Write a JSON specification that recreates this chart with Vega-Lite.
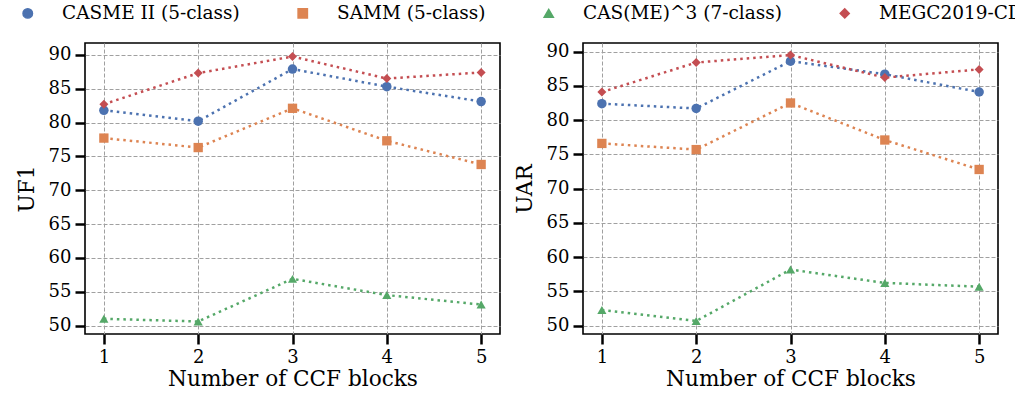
{
  "$schema": "https://vega.github.io/schema/vega-lite/v6.json",
  "padding": {"left": 4, "top": 4, "right": 0, "bottom": 0},
  "background": "white",
  "datasets": {
    "uf1": [
      {"series": "CASME II (5-class)", "block": 1, "value": 81.8},
      {"series": "CASME II (5-class)", "block": 2, "value": 80.2},
      {"series": "CASME II (5-class)", "block": 3, "value": 87.9},
      {"series": "CASME II (5-class)", "block": 4, "value": 85.3},
      {"series": "CASME II (5-class)", "block": 5, "value": 83.1},
      {"series": "SAMM (5-class)", "block": 1, "value": 77.7},
      {"series": "SAMM (5-class)", "block": 2, "value": 76.3},
      {"series": "SAMM (5-class)", "block": 3, "value": 82.1},
      {"series": "SAMM (5-class)", "block": 4, "value": 77.3},
      {"series": "SAMM (5-class)", "block": 5, "value": 73.8},
      {"series": "CAS(ME)^3 (7-class)", "block": 1, "value": 51.0},
      {"series": "CAS(ME)^3 (7-class)", "block": 2, "value": 50.6},
      {"series": "CAS(ME)^3 (7-class)", "block": 3, "value": 56.9},
      {"series": "CAS(ME)^3 (7-class)", "block": 4, "value": 54.5},
      {"series": "CAS(ME)^3 (7-class)", "block": 5, "value": 53.1},
      {"series": "MEGC2019-CD", "block": 1, "value": 82.7},
      {"series": "MEGC2019-CD", "block": 2, "value": 87.3},
      {"series": "MEGC2019-CD", "block": 3, "value": 89.75},
      {"series": "MEGC2019-CD", "block": 4, "value": 86.5},
      {"series": "MEGC2019-CD", "block": 5, "value": 87.4}
    ],
    "uar": [
      {"series": "CASME II (5-class)", "block": 1, "value": 82.4},
      {"series": "CASME II (5-class)", "block": 2, "value": 81.7},
      {"series": "CASME II (5-class)", "block": 3, "value": 88.6},
      {"series": "CASME II (5-class)", "block": 4, "value": 86.7},
      {"series": "CASME II (5-class)", "block": 5, "value": 84.1},
      {"series": "SAMM (5-class)", "block": 1, "value": 76.6},
      {"series": "SAMM (5-class)", "block": 2, "value": 75.7},
      {"series": "SAMM (5-class)", "block": 3, "value": 82.5},
      {"series": "SAMM (5-class)", "block": 4, "value": 77.1},
      {"series": "SAMM (5-class)", "block": 5, "value": 72.8},
      {"series": "CAS(ME)^3 (7-class)", "block": 1, "value": 52.3},
      {"series": "CAS(ME)^3 (7-class)", "block": 2, "value": 50.7},
      {"series": "CAS(ME)^3 (7-class)", "block": 3, "value": 58.2},
      {"series": "CAS(ME)^3 (7-class)", "block": 4, "value": 56.25},
      {"series": "CAS(ME)^3 (7-class)", "block": 5, "value": 55.7},
      {"series": "MEGC2019-CD", "block": 1, "value": 84.1},
      {"series": "MEGC2019-CD", "block": 2, "value": 88.4},
      {"series": "MEGC2019-CD", "block": 3, "value": 89.5},
      {"series": "MEGC2019-CD", "block": 4, "value": 86.2},
      {"series": "MEGC2019-CD", "block": 5, "value": 87.4}
    ]
  },
  "hconcat": [
    {
      "width": 415,
      "height": 291,
      "data": {"name": "uf1"},
      "encoding": {
        "x": {"field": "block", "type": "quantitative", "title": "Number of CCF blocks",
              "scale": {"domain": [0.8, 5.2], "nice": false, "zero": false},
              "axis": {"values": [1, 2, 3, 4, 5], "format": "d"}},
        "y": {"field": "value", "type": "quantitative", "title": "UF1",
              "scale": {"domain": [48.75, 91.75], "nice": false, "zero": false},
              "axis": {"values": [50, 55, 60, 65, 70, 75, 80, 85, 90]}},
        "color": {"field": "series", "type": "nominal",
                  "scale": {"domain": ["CASME II (5-class)", "SAMM (5-class)", "CAS(ME)^3 (7-class)", "MEGC2019-CD"],
                            "range": ["#4C72B0", "#DD8452", "#55A868", "#C44E52"]},
                  "legend": {"title": null, "orient": "none", "legendX": -81, "legendY": -39, "direction": "horizontal"}}
      },
      "layer": [
        {"mark": {"type": "line", "strokeDash": [2.5, 4], "strokeWidth": 2.5, "strokeCap": "butt"}},
        {"mark": {"type": "point", "filled": true, "opacity": 1},
         "encoding": {
           "shape": {"field": "series", "type": "nominal", "legend": null,
                     "scale": {"domain": ["CASME II (5-class)", "SAMM (5-class)", "CAS(ME)^3 (7-class)", "MEGC2019-CD"],
                               "range": ["circle", "square", "triangle-up", "diamond"]}},
           "size": {"field": "series", "type": "nominal", "legend": null,
                    "scale": {"domain": ["CASME II (5-class)", "SAMM (5-class)", "CAS(ME)^3 (7-class)", "MEGC2019-CD"],
                              "range": [90, 81, 121, 132]}}
         }}
      ]
    },
    {
      "width": 415,
      "height": 291,
      "data": {"name": "uar"},
      "encoding": {
        "x": {"field": "block", "type": "quantitative", "title": "Number of CCF blocks",
              "scale": {"domain": [0.8, 5.2], "nice": false, "zero": false},
              "axis": {"values": [1, 2, 3, 4, 5], "format": "d"}},
        "y": {"field": "value", "type": "quantitative", "title": "UAR",
              "scale": {"domain": [48.8, 91.25], "nice": false, "zero": false},
              "axis": {"values": [50, 55, 60, 65, 70, 75, 80, 85, 90]}},
        "color": {"field": "series", "type": "nominal",
                  "scale": {"domain": ["CASME II (5-class)", "SAMM (5-class)", "CAS(ME)^3 (7-class)", "MEGC2019-CD"],
                            "range": ["#4C72B0", "#DD8452", "#55A868", "#C44E52"]},
                  "legend": {"title": null, "orient": "none", "legendX": -81, "legendY": -39, "direction": "horizontal"}}
      },
      "layer": [
        {"mark": {"type": "line", "strokeDash": [2.5, 4], "strokeWidth": 2.5, "strokeCap": "butt"}},
        {"mark": {"type": "point", "filled": true, "opacity": 1},
         "encoding": {
           "shape": {"field": "series", "type": "nominal", "legend": null,
                     "scale": {"domain": ["CASME II (5-class)", "SAMM (5-class)", "CAS(ME)^3 (7-class)", "MEGC2019-CD"],
                               "range": ["circle", "square", "triangle-up", "diamond"]}},
           "size": {"field": "series", "type": "nominal", "legend": null,
                    "scale": {"domain": ["CASME II (5-class)", "SAMM (5-class)", "CAS(ME)^3 (7-class)", "MEGC2019-CD"],
                              "range": [90, 81, 121, 132]}}
         }}
      ]
    }
  ],
  "spacing": 83,
  "bounds": "flush",
  "config": {
    "font": "DejaVu Serif",
    "view": {"stroke": "black", "strokeWidth": 1.6},
    "legend": {
      "padding": 0,
      "symbolSize": 100, "symbolOffset": 14.5, "labelOffset": 25,
      "columnPadding": 39, "labelFontSize": 18.5, "labelColor": "black",
      "labelFont": "DejaVu Serif", "labelLimit": 400, "symbolOpacity": 1
    },
    "axis": {
      "domain": false,
      "tickColor": "black", "tickWidth": 2.5, "tickSize": 10,
      "labelFontSize": 18, "labelColor": "black", "labelPadding": 4, "labelFont": "DejaVu Serif",
      "titleFontSize": 21.6, "titleFontWeight": "normal", "titleColor": "black", "titleFont": "DejaVu Serif",
      "grid": true, "gridColor": "#a0a0a0", "gridDash": [4, 2], "gridWidth": 1
    },
    "axisY": {"titlePadding": 10},
    "axisX": {"titlePadding": 2}
  }
}
